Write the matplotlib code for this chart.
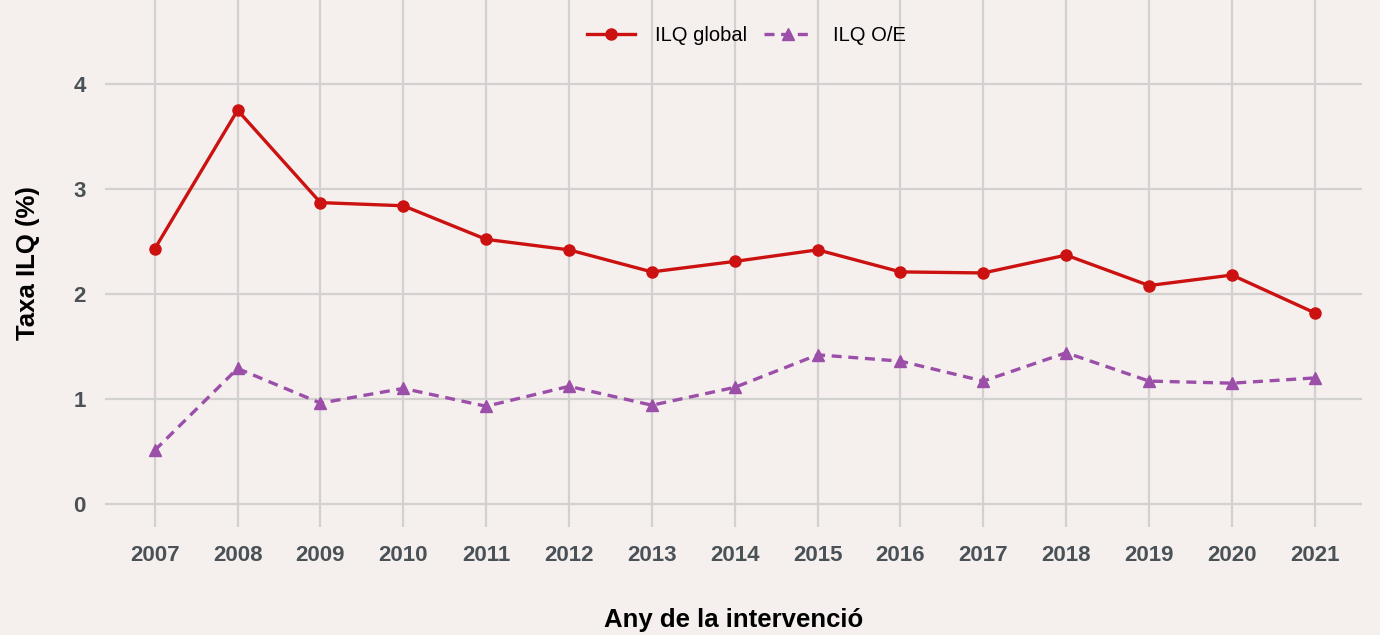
import matplotlib
matplotlib.use('Agg')
from matplotlib import pyplot as plt

# data
years = [2007, 2008, 2009, 2010, 2011, 2012, 2013, 2014, 2015, 2016, 2017, 2018, 2019, 2020, 2021]
ilq_global = [2.43, 3.75, 2.87, 2.84, 2.52, 2.42, 2.21, 2.31, 2.42, 2.21, 2.20, 2.37, 2.08, 2.18, 1.82]
ilq_oe = [0.51, 1.29, 0.96, 1.10, 0.93, 1.12, 0.94, 1.11, 1.42, 1.36, 1.17, 1.44, 1.17, 1.15, 1.20]
y_ticks = [0, 1, 2, 3, 4]

bg = '#F5F0EE'
grid_col = '#D3D1D0'
tick_col = '#4A5157'

plt.rcParams['font.family'] = ['Liberation Sans', 'DejaVu Sans']

fig = plt.figure(figsize=(13.8, 6.35), dpi=100, facecolor=bg)
ax = fig.add_axes([105 / 1380, 1 - 527 / 635, (1362 - 105) / 1380, 527 / 635])
ax.set_facecolor(bg)

ax.plot(years, ilq_global, color='#CC1111', lw=2.4, marker='o', ms=8, label='ILQ global', zorder=3)
ax.plot(years, ilq_oe, color='#9B4FA8', lw=2.4, ls=(0, (3, 2)), marker='^', ms=9, label='ILQ O/E', zorder=3)

ax.set_xlim(years[0] - 0.6, years[-1] + 0.57)
ax.set_ylim(-0.22, 4.8)
ax.set_xticks(years)
ax.set_yticks(y_ticks)
ax.set_xticklabels([str(y) for y in years], fontsize=16, fontweight='bold', color=tick_col)
ax.set_yticklabels([str(v) for v in y_ticks], fontsize=16, fontweight='bold', color=tick_col)
ax.tick_params(axis='both', length=0)
ax.tick_params(axis='x', pad=13)
ax.tick_params(axis='y', pad=14)

ax.grid(True, color=grid_col, lw=1.6)
ax.set_axisbelow(True)
for s in ax.spines.values():
    s.set_visible(False)

ax.set_xlabel('Any de la intervenció', fontsize=18.5, fontweight='bold', labelpad=30)
ax.set_ylabel('Taxa ILQ (%)', fontsize=18.5, fontweight='bold', labelpad=24)

leg = ax.legend(loc='upper center', bbox_to_anchor=(0.51, 0.985), ncol=2, frameon=False,
                fontsize=14.5, handlelength=2.4, columnspacing=0.85, handletextpad=1.0)

fig.savefig('out.png', dpi=100, facecolor=bg)
